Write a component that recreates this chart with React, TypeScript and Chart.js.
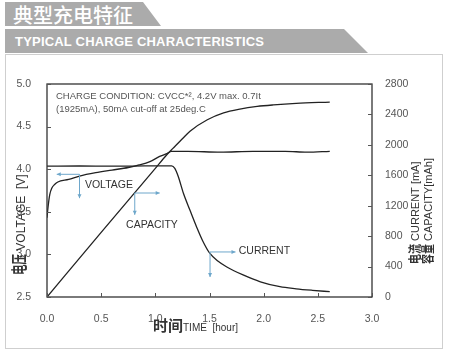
import React, { useEffect, useRef } from "react";
import { Chart, registerables } from "chart.js";
Chart.register(...registerables);

const voltageTime = [0, 0.01, 0.025, 0.045, 0.07, 0.1, 0.2, 0.3, 0.45, 0.6, 0.75, 0.85, 0.95, 1.04, 1.1, 1.15, 1.3, 1.6, 1.9, 2.2, 2.4, 2.61];
const voltageValues = [3.43, 3.56, 3.7, 3.78, 3.82, 3.85, 3.88, 3.92, 3.96, 3.99, 4.02, 4.05, 4.09, 4.15, 4.18, 4.21, 4.21, 4.2, 4.21, 4.21, 4.2, 4.21];

const currentTime = [0, 0.3, 0.6, 0.9, 1.15, 1.18, 1.21, 1.26, 1.32, 1.38, 1.44, 1.5, 1.58, 1.66, 1.81, 1.97, 2.15, 2.3, 2.45, 2.61];
const currentValues = [1720, 1722, 1720, 1723, 1725, 1690, 1590, 1360, 1140, 925, 730, 580, 470, 395, 290, 200, 135, 108, 88, 70];

const capacityTime = [0, 0.5, 1.0, 1.1, 1.16, 1.25, 1.32, 1.48, 1.63, 1.78, 1.94, 2.09, 2.3, 2.61];
const capacityValues = [0, 850, 1690, 1860, 1950, 2080, 2180, 2330, 2420, 2470, 2505, 2525, 2545, 2563];

const timeTicks = [0, 0.5, 1.0, 1.5, 2.0, 2.5, 3.0];
const voltageTicks = [2.5, 3.0, 3.5, 4.0, 4.5, 5.0];
const mATicks = [0, 400, 800, 1200, 1600, 2000, 2400, 2800];

const noteLines = ["CHARGE CONDITION: CVCC*\u00B2, 4.2V max. 0.7It", "(1925mA), 50mA cut-off at 25deg.C"];

// call-out arrows (data coordinates)
const arrowLabels = ["VOLTAGE", "CAPACITY", "CURRENT"];
const arrowAxis = ["y", "y1", "y1"];
const arrowCornerT = [0.3, 0.81, 1.505];
const arrowCornerV = [3.94, 1367, 592];
const arrowHorizEndT = [0.09, 1.04, 1.74];
const arrowVertEndV = [3.66, 1080, 263];
const labelT = [0.35, 0.73, 1.77];
const labelV = [3.81, 947, 605];

const SANS = "'Liberation Sans', Arial, sans-serif";
const CJK = "'Noto Sans CJK SC', sans-serif";
const LINE = "#222";
const ARROW = "#6ea7cb";

const pts = (xs: number[], ys: number[]) => xs.map((x, i) => ({ x, y: ys[i] }));

type Part = [string, string, number];

function drawParts(ctx: CanvasRenderingContext2D, parts: Part[], x: number, y: number) {
  let cx = x;
  for (const [txt, font, sy] of parts) {
    ctx.font = font;
    ctx.save();
    ctx.translate(cx, y);
    ctx.scale(1, sy);
    ctx.fillText(txt, 0, 0);
    ctx.restore();
    cx += ctx.measureText(txt).width;
  }
}

const overlay = {
  id: "overlay",
  afterDatasetsDraw(chart: any) {
    const { ctx, chartArea: a, scales } = chart;
    const sx = scales.x;
    ctx.save();
    // frame
    ctx.strokeStyle = "#333";
    ctx.lineWidth = 1.3;
    ctx.strokeRect(a.left, a.top, a.right - a.left, a.bottom - a.top);
    // inward tick marks
    ctx.lineWidth = 1;
    ctx.strokeStyle = "#555";
    ctx.beginPath();
    timeTicks.forEach((t) => {
      const px = Math.round(sx.getPixelForValue(t)) + 0.5;
      ctx.moveTo(px, a.bottom);
      ctx.lineTo(px, a.bottom - 4);
    });
    voltageTicks.forEach((v) => {
      const py = Math.round(scales.y.getPixelForValue(v)) + 0.5;
      ctx.moveTo(a.left, py);
      ctx.lineTo(a.left + 4, py);
    });
    mATicks.forEach((v) => {
      const py = Math.round(scales.y1.getPixelForValue(v)) + 0.5;
      ctx.moveTo(a.right, py);
      ctx.lineTo(a.right - 4, py);
    });
    ctx.stroke();

    // charge condition note
    ctx.fillStyle = "#555";
    ctx.font = `9.5px ${SANS}`;
    ctx.textBaseline = "middle";
    ctx.textAlign = "left";
    noteLines.forEach((l, i) => ctx.fillText(l, a.left + 9, a.top + 12 + i * 13));

    // arrows
    ctx.strokeStyle = ARROW;
    ctx.fillStyle = ARROW;
    ctx.lineWidth = 1;
    arrowLabels.forEach((lab, i) => {
      const ys = scales[arrowAxis[i]];
      const cx = sx.getPixelForValue(arrowCornerT[i]);
      const cy = ys.getPixelForValue(arrowCornerV[i]);
      const hx = sx.getPixelForValue(arrowHorizEndT[i]);
      const vy = ys.getPixelForValue(arrowVertEndV[i]);
      ctx.beginPath();
      ctx.moveTo(hx, cy);
      ctx.lineTo(cx, cy);
      ctx.lineTo(cx, vy);
      ctx.stroke();
      const dir = hx < cx ? -1 : 1;
      ctx.beginPath();
      ctx.moveTo(hx, cy);
      ctx.lineTo(hx - dir * 4, cy - 2);
      ctx.lineTo(hx - dir * 4, cy + 2);
      ctx.closePath();
      ctx.fill();
      ctx.beginPath();
      ctx.moveTo(cx, vy);
      ctx.lineTo(cx - 2, vy - 4);
      ctx.lineTo(cx + 2, vy - 4);
      ctx.closePath();
      ctx.fill();
    });
    ctx.fillStyle = "#333";
    ctx.font = `10.5px ${SANS}`;
    arrowLabels.forEach((lab, i) => {
      const ys = scales[arrowAxis[i]];
      ctx.fillText(lab, sx.getPixelForValue(labelT[i]), ys.getPixelForValue(labelV[i]));
    });

    // axis titles
    ctx.fillStyle = "#333";
    ctx.textBaseline = "alphabetic";
    // x title
    drawParts(ctx, [["时间", `bold 15px ${CJK}`, 1], ["TIME  [hour]", `10px ${SANS}`, 1]], 153, 331);
    // left title
    ctx.save();
    ctx.translate(25, 275);
    ctx.rotate(-Math.PI / 2);
    drawParts(ctx, [["电压", `bold 10.5px ${CJK}`, 1.5], [" VOLTAGE  [V]", `12px ${SANS}`, 1]], 0, 0);
    ctx.restore();
    // right titles
    ctx.save();
    ctx.translate(419, 264);
    ctx.rotate(-Math.PI / 2);
    drawParts(ctx, [["电流", `bold 10px ${CJK}`, 1.3], [" CURRENT [mA]", `11px ${SANS}`, 1]], 0, 0);
    ctx.restore();
    ctx.save();
    ctx.translate(431.5, 264);
    ctx.rotate(-Math.PI / 2);
    drawParts(ctx, [["容量", `bold 10px ${CJK}`, 1.3], [" CAPACITY[mAh]", `11px ${SANS}`, 1]], 0, 0);
    ctx.restore();

    ctx.restore();
  },
};

export default function App() {
  const ref = useRef<HTMLCanvasElement>(null);
  useEffect(() => {
    if (!ref.current) return;
    const tickFont = { family: SANS, size: 10.5 };
    const lineDs = (data: any, axis: string) => ({
      data,
      yAxisID: axis,
      showLine: true,
      borderColor: LINE,
      borderWidth: 1.3,
      pointRadius: 0,
      cubicInterpolationMode: "monotone" as const,
      fill: false,
    });
    const chart = new Chart(ref.current, {
      type: "scatter",
      data: {
        datasets: [
          lineDs(pts(voltageTime, voltageValues), "y"),
          lineDs(pts(currentTime, currentValues), "y1"),
          lineDs(pts(capacityTime, capacityValues), "y1"),
        ],
      },
      options: {
        responsive: false,
        animation: false,
        layout: { padding: { top: 84, left: 0, right: 0, bottom: 0 } },
        plugins: { legend: { display: false }, tooltip: { enabled: false }, title: { display: false } },
        scales: {
          x: {
            type: "linear",
            min: 0,
            max: 3,
            afterBuildTicks: (s: any) => { s.ticks = timeTicks.map((v) => ({ value: v })); },
            afterFit: (s: any) => { s.height = 62; },
            grid: { display: false },
            border: { display: false },
            ticks: { color: "#555", font: tickFont, padding: 8, callback: (v: any) => Number(v).toFixed(1), maxRotation: 0 },
          },
          y: {
            type: "linear",
            position: "left",
            min: 2.5,
            max: 5,
            afterBuildTicks: (s: any) => { s.ticks = voltageTicks.map((v) => ({ value: v })); },
            afterFit: (s: any) => { s.width = 47; },
            grid: { display: false },
            border: { display: false },
            ticks: { color: "#555", font: tickFont, padding: 8, callback: (v: any) => Number(v).toFixed(1) },
          },
          y1: {
            type: "linear",
            position: "right",
            min: 0,
            max: 2800,
            afterBuildTicks: (s: any) => { s.ticks = mATicks.map((v) => ({ value: v })); },
            afterFit: (s: any) => { s.width = 78; },
            grid: { display: false },
            border: { display: false },
            ticks: { color: "#555", font: tickFont, padding: 5, callback: (v: any) => String(v) },
          },
        },
      },
      plugins: [overlay],
    });
    return () => chart.destroy();
  }, []);

  const bannerBase: React.CSSProperties = {
    position: "absolute",
    left: 5,
    background: "#ababab",
    color: "#fff",
    display: "flex",
    alignItems: "center",
    boxSizing: "border-box",
  };

  return (
    <div style={{ position: "absolute", left: 0, top: 0, width: 450, height: 359, background: "#fff", overflow: "hidden" }}>
      <div style={{ position: "absolute", left: 5, top: 54, width: 438, height: 295, border: "1px solid #cfcfcf", boxSizing: "border-box" }} />
      <div
        style={{
          ...bannerBase,
          top: 2,
          width: 156,
          height: 24,
          clipPath: "polygon(0 0, 138px 0, 156px 100%, 0 100%)",
          paddingLeft: 8,
          fontFamily: CJK,
          fontSize: 20,
          fontWeight: 500,
        }}
      >
        典型充电特征
      </div>
      <div
        style={{
          ...bannerBase,
          top: 29,
          width: 363,
          height: 24,
          clipPath: "polygon(0 0, 339px 0, 363px 100%, 0 100%)",
          paddingLeft: 10,
          fontFamily: SANS,
          fontSize: 13,
          fontWeight: 700,
          letterSpacing: 0.2,
        }}
      >
        TYPICAL CHARGE CHARACTERISTICS
      </div>
      <canvas ref={ref} width={450} height={359} style={{ position: "absolute", left: 0, top: 0, width: 450, height: 359 }} />
    </div>
  );
}
